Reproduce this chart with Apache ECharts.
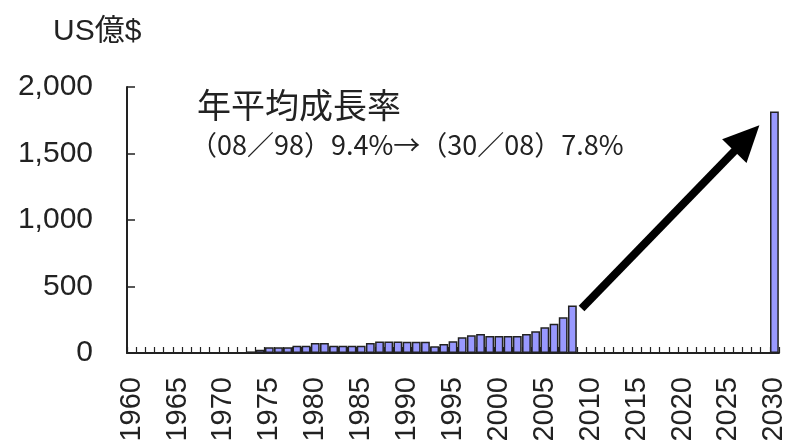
<!DOCTYPE html>
<html>
<head>
<meta charset="utf-8">
<style>
  html, body { margin: 0; padding: 0; background: #ffffff; }
  #chart { width: 787px; height: 440px; }
</style>
<script src="https://cdn.jsdelivr.net/npm/echarts@6/dist/echarts.min.js"></script>
</head>
<body>
<div id="chart"></div>
<script>
// Years shown on the horizontal axis (one slot per year)
const firstYear = 1960;
const lastYear = 2030;
const years = [];
for (let y = firstYear; y <= lastYear; y++) years.push(String(y));

// Actual market size, US億$ (1973–2008)
const actualYears = ['1973','1974','1975','1976','1977','1978','1979','1980','1981','1982',
  '1983','1984','1985','1986','1987','1988','1989','1990','1991','1992',
  '1993','1994','1995','1996','1997','1998','1999','2000','2001','2002',
  '2003','2004','2005','2006','2007','2008'];
const actualValues = [12, 25, 43, 43, 43, 55, 55, 75, 75, 55,
  55, 55, 55, 75, 86, 86, 86, 84, 84, 84,
  50, 68, 88, 118, 133, 143, 128, 128, 128, 128,
  143, 163, 193, 220, 268, 358];

// Outlook
const outlookYears = ['2030'];
const outlookValues = [1815];

// Growth arrow, from the 2008 level toward the 2030 outlook
const arrowFrom = { year: '2009', value: 335 };
const arrowTo = { year: '2027', value: 1615 };

// Value axis ticks
const yMin = 0, yMax = 2000, yStep = 500;

const unitLabel = 'US億$';
const noteTitle = '年平均成長率';
const noteRates = '（08／98）9.4%→（30／08）7.8%';

// One value per year slot; empty years stay blank
const lookup = {};
actualYears.forEach((y, i) => { lookup[y] = actualValues[i]; });
outlookYears.forEach((y, i) => { lookup[y] = outlookValues[i]; });
const barData = years.map(y => (y in lookup ? lookup[y] : null));

const ink = '#222222';
const latin = '"Liberation Sans", Arial, "Noto Sans CJK JP", sans-serif';
const cjk = '"Noto Sans CJK JP", "Liberation Sans", sans-serif';

const chart = echarts.init(document.getElementById('chart'), null, { renderer: 'canvas' });
chart.setOption({
  animation: false,
  backgroundColor: '#ffffff',
  grid: { left: 127, right: 8, top: 87, bottom: 87, containLabel: false, outerBoundsMode: 'none' },
  xAxis: {
    type: 'category',
    data: years,
    boundaryGap: true,
    axisLine: { show: true, lineStyle: { color: ink, width: 2 } },
    axisTick: { show: true, inside: true, length: 6, interval: 0, lineStyle: { color: ink, width: 1.2 } },
    axisLabel: {
      interval: 4,
      rotate: 90,
      margin: 24,
      color: ink,
      fontFamily: latin,
      fontSize: 29
    },
    splitLine: { show: false }
  },
  yAxis: {
    type: 'value',
    min: yMin,
    max: yMax,
    interval: yStep,
    axisLine: { show: true, lineStyle: { color: ink, width: 2 } },
    axisTick: { show: true, inside: true, length: 8, lineStyle: { color: ink, width: 1.5 } },
    axisLabel: {
      margin: 34,
      color: ink,
      fontFamily: latin,
      fontSize: 30,
      formatter: v => v.toLocaleString('en-US')
    },
    splitLine: { show: false }
  },
  series: [{
    type: 'bar',
    data: barData,
    barCategoryGap: '4%',
    itemStyle: { color: '#9999ff', borderColor: ink, borderWidth: 1.5 },
    emphasis: { disabled: true },
    markLine: {
      silent: true,
      symbol: ['none', 'triangle'],
      symbolSize: [34, 36],
      label: { show: false },
      lineStyle: { color: '#000000', width: 8, type: 'solid' },
      emphasis: { disabled: true },
      data: [[
        { coord: [arrowFrom.year, arrowFrom.value] },
        { coord: [arrowTo.year, arrowTo.value] }
      ]]
    }
  }],
  graphic: [
    {
      type: 'text', left: 53, top: 17,
      style: { text: unitLabel, fill: ink, font: '30px ' + latin }
    },
    {
      type: 'text', left: 197, top: 88,
      style: { text: noteTitle, fill: ink, font: '34px ' + cjk }
    },
    {
      type: 'text', left: 190, top: 131,
      style: { text: noteRates, fill: ink, font: '27px ' + cjk }
    }
  ]
});
</script>
</body>
</html>
